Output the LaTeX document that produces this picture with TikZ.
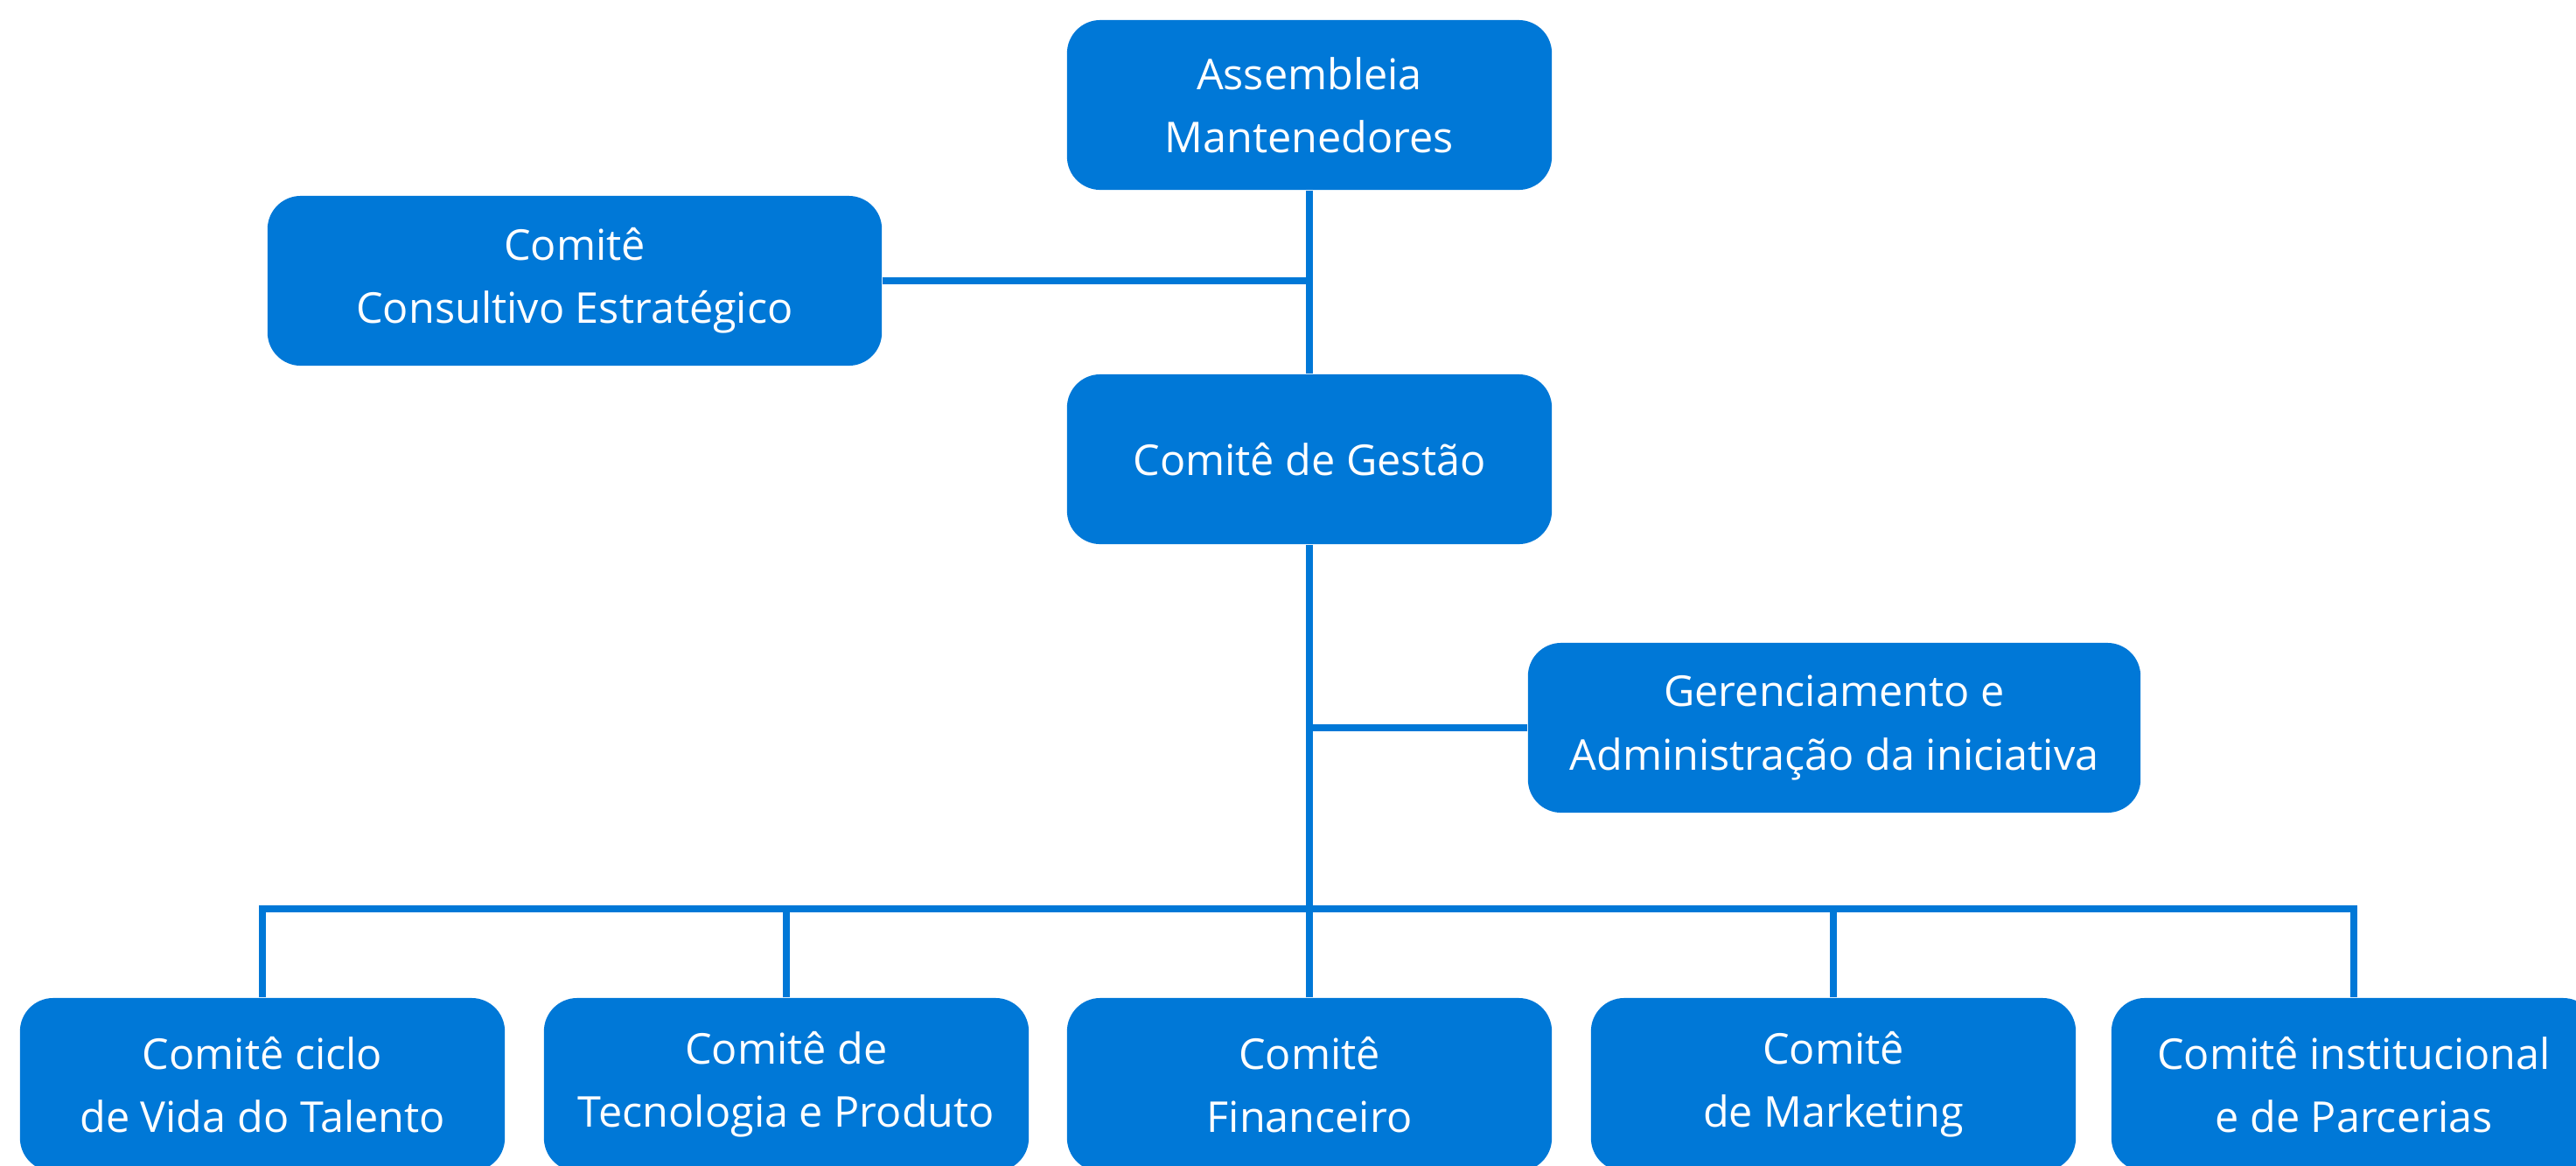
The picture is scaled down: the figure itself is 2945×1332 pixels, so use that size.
\documentclass[tikz,border=0pt]{standalone}
\usepackage{fontspec}
\setmainfont{Open Sans}
\usetikzlibrary{backgrounds}
\definecolor{msblue}{RGB}{0,120,215}
\tikzset{
  box/.style={fill=msblue, rounded corners=0.38cm, minimum width=5.54cm, minimum height=1.94cm,
    text=white, align=center, font=\fontsize{13.8}{20.5}\selectfont, inner sep=0pt},
  link/.style={draw=msblue, line width=2.5pt}
}
\begin{document}
\begin{tikzpicture}[x=0.01cm,y=-0.01cm]
\useasboundingbox (0,0) rectangle (2945,1332);
\clip (0,0) rectangle (2945,1332);
\node[box] (asm) at (1497,120) {Assembleia\\Mantenedores};
\node[box, minimum width=7.02cm] (cons) at (657,321) {Comitê\\Consultivo Estratégico};
\node[box] (gest) at (1497,525) {Comitê de Gestão};
\node[box, minimum width=7.0cm] (ger) at (2097,832) {Gerenciamento e\\Administração da iniciativa};
\node[box, minimum height=1.98cm] (b1) at (300,1240) {Comitê ciclo\\de Vida do Talento};
\node[box, minimum height=1.98cm] (b2) at (899,1240) {Comitê de\\Tecnologia e Produto};
\node[box, minimum height=1.98cm] (b3) at (1497,1240) {Comitê\\Financeiro};
\node[box, minimum height=1.98cm] (b4) at (2096,1240) {Comitê\\de Marketing};
\node[box, minimum height=1.98cm] (b5) at (2691,1240) {Comitê institucional\\e de Parcerias};
\coordinate (bus) at (1497,1039);
\begin{scope}[on background layer]
\draw[link] (asm) -- (gest);
\draw[link] (cons.east) -- (cons.east -| asm);
\draw[link] (gest) -- (bus);
\draw[link] (ger.west) -- (ger.west -| gest);
\draw[link] (b1.north) -- (b1.north |- bus) -- (b5.north |- bus) -- (b5.north);
\draw[link] (b2.north) -- (b2.north |- bus);
\draw[link] (b3.north) -- (bus);
\draw[link] (b4.north) -- (b4.north |- bus);
\end{scope}
\end{tikzpicture}
\end{document}
